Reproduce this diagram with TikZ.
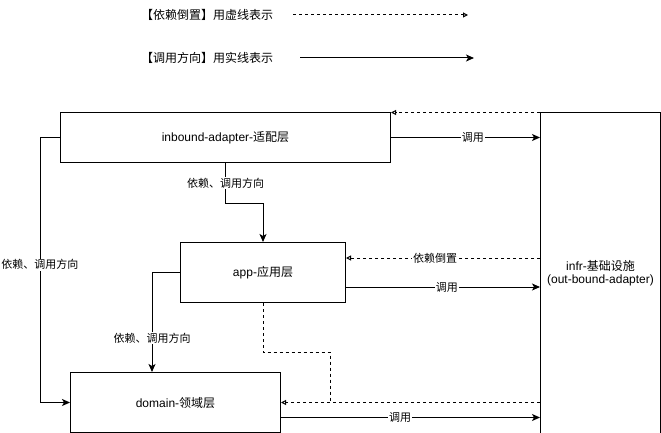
\documentclass[tikz,border=0pt]{standalone}
\usepackage{fontspec}
\setmainfont{Liberation Sans}
\newfontfamily\cjk{Noto Sans CJK SC}
\newcommand{\zh}[1]{{\cjk #1}}
\usetikzlibrary{arrows.meta,positioning}

\begin{document}
\begin{tikzpicture}[
    x=1pt, y=-1pt,
    box/.style={rectangle, draw, line width=1pt, inner sep=0pt, align=center, font=\fontsize{12}{16}\selectfont},
    legend/.style={inner sep=0pt, font=\fontsize{12}{14}\selectfont},
    lbl/.style={fill=white, inner sep=1pt, font=\fontsize{11}{13}\selectfont},
    depline/.style={line width=1pt, dash pattern=on 3pt off 3pt},
    dep/.style={depline, -{Triangle[open,length=5pt,width=5pt]}},
    call/.style={line width=1pt, -{Stealth[length=8pt,width=7pt,inset=2pt]}}
]
\useasboundingbox (0,0) rectangle (661,433);

% legend
\node[legend] (depkey) at (207,15) {\zh{【依赖倒置】用虚线表示}};
\node[legend] (callkey) at (207,58) {\zh{【调用方向】用实线表示}};
\coordinate (depfrom) at (293,15);
\coordinate (depto) at (468,15);
\coordinate (callfrom) at (300,58);
\coordinate (callto) at (474,58);
\draw[dep] (depfrom) -- (depto);
\draw[call] (callfrom) -- (callto);

% layers
\node[box, minimum width=330pt, minimum height=49pt] (inbound) at (225.5,137.5) {inbound-adapter-\zh{适配层}};
\node[box, minimum width=165pt, minimum height=60pt] (app) at (263,272.5) {app-\zh{应用层}};
\node[box, minimum width=210pt, minimum height=60pt] (domain) at (175.5,402.5) {domain-\zh{领域层}};
\node[box, minimum width=120pt, minimum height=320pt] (infr) at (600.5,273) {infr-\zh{基础设施}\\[-3.5pt](out-bound-adapter)};

% inbound
\draw[dep] (infr.north west) -- (inbound.north east);
\draw[call] (inbound.east) -- node[lbl, pos=0.55] {\zh{调用}} (inbound.east -| infr.west);
\draw[call] (inbound.south) -- node[lbl] {\zh{依赖、调用方向}} ++(0,41) -| (app.north);
\draw[call] (inbound.west) -- ++(-20,0) |- node[lbl, pos=0.24] {\zh{依赖、调用方向}} (domain.west);

% app
\draw[dep] (infr.west |- 0,258) -- node[lbl, pos=0.54] {\zh{依赖倒置}} (app.east |- 0,258);
\draw[call] (app.east |- 0,287) -- node[lbl, pos=0.52] {\zh{调用}} (infr.west |- 0,287);
\draw[call] (app.west) -| node[lbl, pos=0.83] {\zh{依赖、调用方向}} (domain.north -| 152,0);
\coordinate (join) at (330.5,402.5);
\draw[depline] (app.south) |- (join |- 0,352.5) -- (join);

% domain
\draw[dep] (infr.west |- domain.east) -- (domain.east);
\draw[call] (domain.east |- 0,417.5) -- node[lbl, pos=0.46] {\zh{调用}} (infr.west |- 0,417.5);

\end{tikzpicture}
\end{document}
